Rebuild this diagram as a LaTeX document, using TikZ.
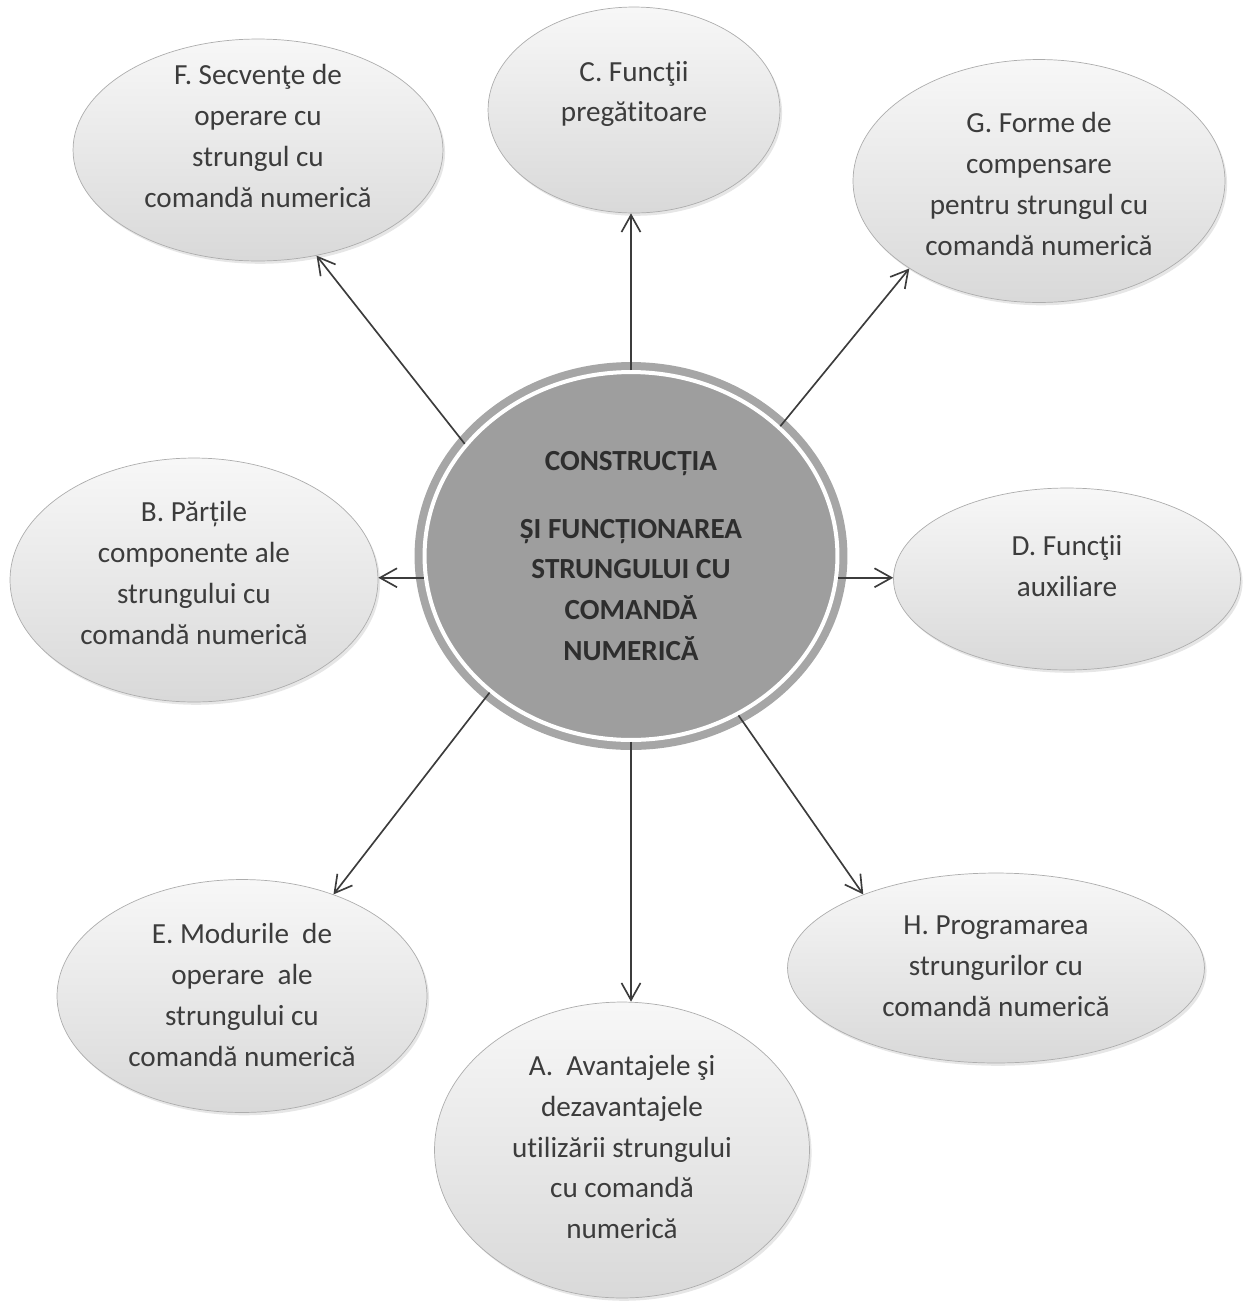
\documentclass[tikz,border=0pt]{standalone}
\usepackage{fontspec}
\setmainfont{Carlito}[RawFeature=-liga]
\usetikzlibrary{arrows.meta,shapes.geometric,shadows,calc}
\definecolor{inkgray}{HTML}{3C3C3C}
\definecolor{hubgray}{HTML}{9E9E9E}
\definecolor{ringgray}{HTML}{A6A6A6}
\tikzset{
  bubble/.style={ellipse,draw=black!32,thin,top color=black!3,bottom color=black!15,
    inner sep=0pt,drop shadow={opacity=0.2,shadow xshift=1.2pt,shadow yshift=-1.6pt}},
  bubbletext/.style={align=center,font=\fontsize{16.6}{23.3}\selectfont,text=inkgray},
  hub/.style={ellipse,fill=hubgray,draw=white,line width=0.08cm,
    preaction={draw=ringgray,line width=0.40cm},align=center,
    font=\bfseries\fontsize{16.6}{23.3}\selectfont,text=black!82},
  link/.style={-{Straight Barb[length=3.4mm,width=3.8mm]},draw=inkgray,line width=0.95pt}
}
\begin{document}
\begin{tikzpicture}[x=0.02cm,y=-0.02cm]
  \useasboundingbox (0,0) rectangle (1245,1302);
  \node[hub,minimum width=8.26cm,minimum height=7.36cm] (hub) at (631,556)
    {CONSTRUCȚIA\\[0.54cm]ȘI FUNCȚIONAREA\\STRUNGULUI CU\\COMANDĂ\\NUMERICĂ};

  \node[bubble,minimum width=7.40cm,minimum height=4.44cm] (f) at (258,150) {};
  \node[bubble,minimum width=5.84cm,minimum height=4.12cm] (c) at (634,110) {};
  \node[bubble,minimum width=7.44cm,minimum height=4.86cm] (g) at (1039,181) {};
  \node[bubble,minimum width=7.36cm,minimum height=4.88cm] (b) at (194,580) {};
  \node[bubble,minimum width=6.94cm,minimum height=3.64cm] (d) at (1067,579) {};
  \node[bubble,minimum width=7.40cm,minimum height=4.66cm] (e) at (242,996) {};
  \node[bubble,minimum width=8.34cm,minimum height=3.80cm] (h) at (996,968) {};
  \node[bubble,minimum width=7.50cm,minimum height=5.92cm] (a) at (622,1150) {};

  \node[bubbletext] (ftext) at (258,136) {F. Secvenţe de\\operare cu\\strungul cu\\comandă numerică};
  \node[bubbletext] (ctext) at (634,94) {C. Funcţii\\pregătitoare};
  \node[bubbletext] (gtext) at (1039,184) {G. Forme de\\compensare\\pentru strungul cu\\comandă numerică};
  \node[bubbletext] (btext) at (194,573) {B. Părțile\\componente ale\\strungului cu\\comandă numerică};
  \node[bubbletext] (dtext) at (1067,566) {D. Funcţii\\auxiliare};
  \node[bubbletext] (etext) at (242,995) {E. Modurile~~de\\operare~~ale\\strungului cu\\comandă numerică};
  \node[bubbletext] (htext) at (996,966) {H. Programarea\\strungurilor cu\\comandă numerică};
  \node[bubbletext] (atext) at (622,1147) {A.~~Avantajele şi\\dezavantajele\\utilizării strungului\\cu comandă\\numerică};

  \draw[link] (hub.146.7) -- (f.299);
  \draw[link] (hub.north) -- (hub.north |- c.south);
  \draw[link] (hub.41) -- (g.214.5);
  \draw[link] (hub.186) -- (hub.186 -| b.east);
  \draw[link] (hub.-6) -- (hub.-6 -| d.west);
  \draw[link] (hub.224.6) -- (e.48.7);
  \draw[link] (hub.south) -- (hub.south |- a.north);
  \draw[link] (hub.304.4) -- (h.151.5);
\end{tikzpicture}
\end{document}
